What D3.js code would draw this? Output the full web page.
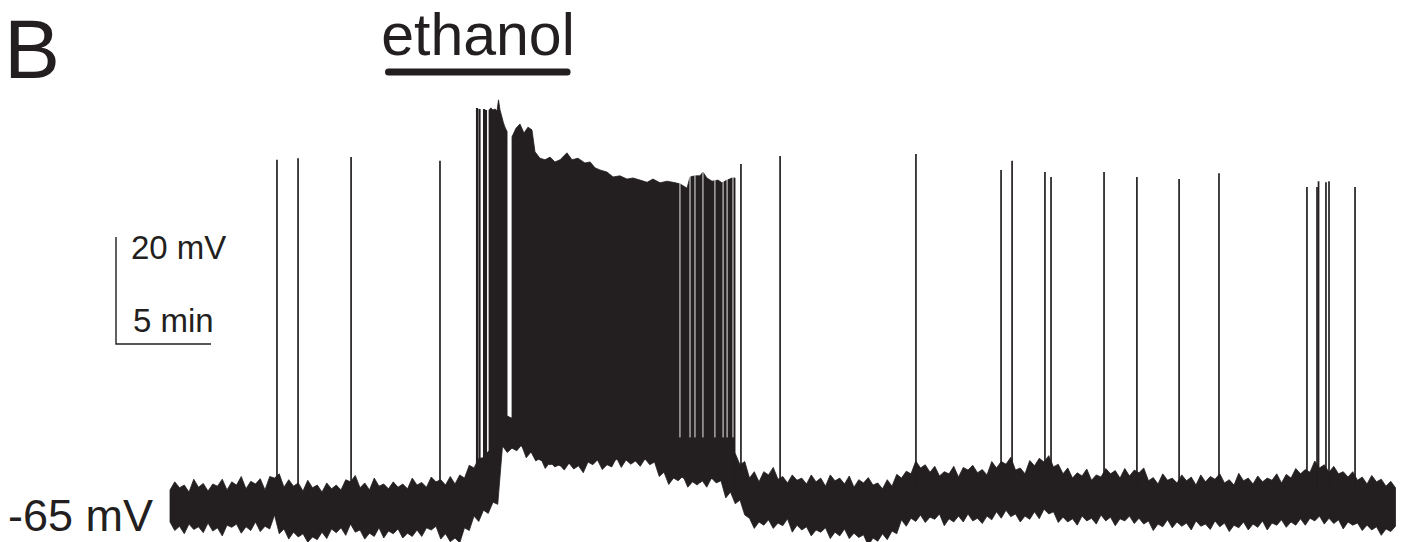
<!DOCTYPE html>
<html><head><meta charset="utf-8">
<script src="https://cdn.jsdelivr.net/npm/d3@7"></script>
<style>html,body{margin:0;padding:0;background:#fff;} svg{display:block;}</style>
</head><body>
<svg id="chart" width="1408" height="542"></svg>
<script>
// ---------------- DATA (time in min, membrane potential in mV) ----------------
const panelLabel = "B";
const drugLabel = "ethanol";
const restLabel = "-65 mV";
const scaleVLabel = "20 mV";
const scaleHLabel = "5 min";
const scaleV = 20;   // mV
const scaleH = 5;    // min
const restV = -65;

// baseline envelope (upper / lower edge of the noisy trace), sampled every 0.5 min
const baseStep = 0.5;
const baseHi = [-61.8,-61.4,-62.2,-61.3,-62.0,-61.1,-61.8,-60.9,-61.6,-60.7,-61.8,-59.6,-61.3,-61.1,-62.0,-61.4,-62.2,-61.6,-61.8,-60.3,
 -61.4,-61.8,-61.1,-61.6,-61.3,-61.6,-60.9,-61.3,-60.3,-60.9,-60.7,-59.6,-57.7,-55.8,-54.3,-48.7,-48.4,-48.7,-49.7,-50.6,
 -51.0,-50.6,-51.0,-51.2,-50.8,-50.6,-50.2,-50.6,-50.4,-50.8,-50.6,-51.0,-52.5,-53.4,-53.8,-54.2,-54.0,-54.3,-54.7,-55.8,
 -57.1,-59.6,-60.3,-59.0,-59.8,-60.5,-60.0,-60.7,-60.3,-61.1,-60.1,-60.7,-61.3,-60.5,-60.9,-61.6,-61.1,-59.6,-58.8,-57.7,
 -58.5,-59.2,-58.8,-59.4,-58.1,-58.6,-59.0,-57.7,-57.0,-58.1,-58.8,-57.3,-56.6,-57.5,-58.8,-59.6,-59.2,-60.0,-59.4,-58.8,
 -59.6,-59.2,-58.6,-60.1,-60.7,-60.0,-60.5,-60.1,-60.9,-60.3,-59.8,-60.5,-60.9,-60.1,-60.7,-60.3,-60.0,-60.5,-59.6,-58.8,
 -58.5,-57.7,-58.5,-58.8,-59.4,-60.0,-60.7,-60.3,-61.1,-61.4];
const baseLo = [-67.8,-68.6,-68.2,-68.7,-68.0,-68.9,-68.4,-68.2,-68.7,-67.8,-68.6,-66.5,-69.1,-69.7,-70.0,-70.6,-69.7,-69.1,-68.9,-68.2,
 -69.3,-69.9,-68.9,-69.5,-69.1,-69.9,-69.3,-68.9,-68.6,-70.0,-70.8,-68.9,-66.7,-65.6,-64.1,-53.6,-54.0,-53.4,-54.7,-55.8,
 -56.6,-57.1,-56.8,-57.3,-56.6,-56.2,-57.1,-55.8,-56.2,-56.4,-56.0,-56.6,-58.5,-59.6,-59.2,-60.3,-60.0,-59.6,-60.1,-62.2,
 -63.7,-67.1,-67.8,-67.4,-68.0,-67.2,-68.4,-68.7,-69.3,-68.9,-69.7,-69.1,-69.9,-70.2,-70.8,-70.0,-69.5,-67.4,-67.1,-66.5,
 -66.9,-66.3,-67.2,-66.7,-66.3,-67.1,-66.7,-65.9,-65.6,-66.3,-66.7,-65.9,-65.4,-65.9,-66.9,-67.2,-66.7,-67.1,-66.5,-66.9,
 -67.2,-66.7,-67.1,-67.6,-68.2,-67.4,-67.8,-68.0,-67.6,-68.2,-67.6,-68.0,-68.4,-67.8,-68.2,-67.6,-68.0,-67.4,-67.8,-67.2,
 -67.1,-66.7,-67.1,-67.4,-67.8,-68.0,-68.4,-68.7,-69.1,-68.6];
// noise peaks between the samples above (at +0.25 min)
const baseHiMid = [-60.3,-60.9,-59.8,-60.6,-60.7,-59.8,-60.3,-59.3,-60.2,-59.7,-59.3,-58.8,-59.9,-60.5,-60.0,-60.9,-60.5,-60.9,-59.9,-59.1,
 -60.5,-59.6,-60.7,-60.3,-60.7,-59.6,-60.4,-59.4,-59.9,-59.3,-59.0,-57.2,-55.9,-54.6,-52.0,-48.0,-47.9,-48.2,-49.2,-50.1,
 -50.1,-50.1,-50.5,-50.3,-50.1,-49.7,-49.7,-49.9,-49.9,-50.1,-50.1,-50.5,-52.0,-52.9,-53.3,-53.5,-53.5,-53.8,-54.2,-55.0,
 -56.5,-58.4,-58.4,-57.6,-59.3,-59.0,-59.6,-59.0,-59.6,-59.0,-59.6,-59.2,-59.9,-59.5,-60.5,-59.9,-58.9,-58.3,-56.4,-57.1,
 -57.4,-58.4,-57.4,-57.6,-57.2,-58.0,-56.5,-56.5,-55.7,-57.7,-56.3,-55.9,-55.4,-57.0,-57.7,-58.6,-57.9,-59.0,-57.8,-58.2,
 -57.8,-58.1,-57.7,-59.5,-58.8,-59.6,-59.0,-59.4,-59.0,-59.3,-58.8,-59.9,-58.7,-59.6,-59.2,-59.6,-58.8,-58.9,-57.8,-58.0,
 -56.4,-57.1,-57.4,-58.4,-58.4,-59.4,-59.1,-59.8,-60.2];
const baseLoMid = [-69.4,-70.0,-69.2,-69.8,-69.5,-70.4,-68.8,-69.9,-69.4,-69.6,-69.1,-70.0,-71.0,-70.6,-71.6,-71.1,-70.9,-69.8,-70.3,-69.7,
 -71.0,-70.5,-70.8,-70.0,-70.8,-70.5,-70.5,-69.3,-71.0,-71.5,-71.7,-69.4,-67.7,-66.2,-64.5,-54.8,-54.5,-55.8,-56.4,-57.8,
 -57.5,-58.1,-57.9,-58.6,-57.1,-58.0,-57.5,-57.6,-57.0,-57.4,-57.1,-59.3,-60.8,-60.1,-61.3,-60.9,-61.3,-60.5,-63.3,-64.4,
 -66.5,-69.0,-68.4,-69.0,-68.5,-69.7,-69.3,-70.4,-69.7,-70.9,-70.4,-70.9,-70.7,-72.2,-71.4,-71.1,-70.0,-68.6,-67.7,-67.9,
 -67.3,-68.5,-67.8,-67.8,-67.6,-68.1,-67.4,-67.1,-66.8,-67.8,-67.3,-67.2,-66.3,-67.9,-67.8,-68.4,-67.6,-68.2,-67.6,-68.5,
 -67.6,-68.1,-68.2,-69.4,-68.7,-68.9,-68.6,-69.3,-68.6,-69.2,-68.7,-69.6,-68.9,-69.3,-68.8,-69.3,-68.4,-68.8,-68.4,-68.4,
 -67.6,-68.2,-68.1,-69.1,-68.4,-69.4,-69.3,-70.3,-69.6];

// onset burst: separate spikes, then fused burst
const burstSpikeT = [16.16, 16.29, 16.53, 16.63];
const burstSpikePeak = [9.6, 9.4, 9.4, 9.2];
const burstT  = [16.79, 16.89, 17.0, 17.11, 17.21, 17.29, 17.37, 17.47, 17.55, 17.63, 17.74];
const burstHi = [9.2, 9.6, 9.2, 9.4, 9.0, 11.1, 9.2, 7.9, 6.8, 6.0, 5.2];
const burstLo = [-63.7, -63.9, -63.7, -63.3, -62.9, -60.0, -53.8, -53.6, -53.6, -53.4, -53.6];

// sustained high-frequency firing during ethanol (spike-peak / trough envelope)
const denseT  = [18.0,18.21,18.42,18.63,18.84,19.05,19.21,19.47,19.74,20.0,20.26,20.53,20.89,21.16,21.47,21.84,22.11,22.37,22.63,23.0,
 23.32,23.68,24.05,24.37,24.74,25.11,25.42,25.79,26.16,26.47,26.84,27.21,27.37,27.63,27.89,28.05,28.26,28.53,28.84,29.05,29.32,29.58,29.74];
const denseHi = [4.2,5.8,6.6,4.9,6.0,5.5,1.4,0.2,-0.1,0.4,-0.5,-0.1,1.2,-0.1,0.2,-0.7,-0.5,-1.6,-2.0,-2.4,
 -3.3,-3.1,-3.7,-3.5,-3.9,-4.3,-3.7,-4.4,-4.1,-4.3,-4.6,-5.4,-3.3,-3.1,-3.1,-2.4,-3.5,-4.1,-3.9,-4.4,-3.9,-3.5,-3.5];
const denseLo = [-53.8,-53.0,-53.4,-54.0,-53.6,-54.7,-55.8,-56.2,-56.6,-57.1,-56.8,-57.3,-57.0,-56.6,-56.2,-55.8,-56.6,-56.2,-55.7,-56.0,
 -56.4,-55.8,-56.2,-56.0,-56.6,-55.8,-56.2,-56.6,-58.8,-59.6,-59.2,-60.0,-60.3,-59.6,-60.5,-60.0,-60.3,-59.6,-60.1,-60.0,-60.9,-61.8,-62.2];
// visible inter-spike gaps near the end of the high-frequency firing
const denseGapT = [26.84, 27.37, 27.63, 28.05, 28.68, 29.11, 29.32, 29.63];

// isolated action potentials
const spikeT    = [5.63, 6.74, 9.53, 14.21, 30.05, 32.11, 39.26, 43.74, 44.32, 46.05, 46.37, 49.16, 50.89, 53.11, 55.21, 59.84, 60.37, 60.45, 60.84, 61.0, 62.37];
const spikePeak = [-0.1, 0.2, 0.4, -0.3, -0.9, 0.6, 1.0, -2.0, -0.3, -2.4, -3.3, -2.4, -3.3, -3.7, -2.6, -5.2, -5.2, -4.1, -4.3, -4.1, -5.2];
const spikeBase = -62;

// drug application period (min)
const drugStart = 11.5;
const drugEnd = 20.9;

// ---------------- DRAWING ----------------
const ink = "#231f20";
const svg = d3.select("#chart");
const x = d3.scaleLinear().domain([0, 64.5]).range([170, 1395.5]);
const y = d3.scaleLinear().domain([-65, 0]).range([507, 507 - 65 * 5.35]);

const baseData = [];
baseHi.forEach((h, i) => {
  baseData.push({t: i * baseStep, hi: h, lo: baseLo[i]});
  if (i < baseHiMid.length) baseData.push({t: i * baseStep + baseStep / 2, hi: baseHiMid[i], lo: baseLoMid[i]});
});
const burstData = burstT.map((t, i) => ({t, hi: burstHi[i], lo: burstLo[i]}));
const denseData = denseT.map((t, i) => ({t, hi: denseHi[i], lo: denseLo[i]}));

const area = d3.area().x(d => x(d.t)).y0(d => y(d.lo)).y1(d => y(d.hi)).curve(d3.curveLinear);

const g = svg.append("g");
g.append("path").datum(baseData).attr("d", area).attr("fill", ink).attr("stroke", ink).attr("stroke-width", 0.8);
g.append("path").datum(burstData).attr("d", area).attr("fill", ink).attr("stroke", ink).attr("stroke-width", 0.8);
g.append("path").datum(denseData).attr("d", area).attr("fill", ink).attr("stroke", ink).attr("stroke-width", 0.8);

g.selectAll("line.gap").data(denseGapT).join("line").attr("class", "gap")
  .attr("x1", d => x(d)).attr("x2", d => x(d))
  .attr("y1", y(-1)).attr("y2", y(-52))
  .attr("stroke", "#fff").attr("stroke-width", 0.9);

g.selectAll("line.bspk").data(burstSpikeT).join("line").attr("class", "bspk")
  .attr("x1", d => x(d)).attr("x2", d => x(d))
  .attr("y1", y(spikeBase)).attr("y2", (d, i) => y(burstSpikePeak[i]))
  .attr("stroke", ink).attr("stroke-width", 2.2);

g.selectAll("line.spk").data(spikeT).join("line").attr("class", "spk")
  .attr("x1", d => x(d)).attr("x2", d => x(d))
  .attr("y1", y(spikeBase)).attr("y2", (d, i) => y(spikePeak[i]))
  .attr("stroke", ink).attr("stroke-width", 1.7);

// scale bars
const sbX = 116, sbY = 344;
const vLen = y(restV) - y(restV + scaleV);
const hLen = x(scaleH) - x(0);
svg.append("path")
  .attr("d", `M${sbX},${sbY - vLen}L${sbX},${sbY}L${sbX + hLen},${sbY}`)
  .attr("fill", "none").attr("stroke", ink).attr("stroke-width", 1.4);

const font = "'Liberation Sans', Arial, Helvetica, sans-serif";
svg.append("text").attr("x", 131).attr("y", 259).attr("font-family", font).attr("font-size", 33).attr("fill", ink).text(scaleVLabel);
svg.append("text").attr("x", 133).attr("y", 332).attr("font-family", font).attr("font-size", 33).attr("fill", ink).text(scaleHLabel);

svg.append("text").attr("x", 8).attr("y", 531).attr("font-family", font).attr("font-size", 45).attr("fill", ink).text(restLabel);

svg.append("text").attr("x", 4).attr("y", 78).attr("font-family", font).attr("font-size", 84).attr("fill", ink).text(panelLabel);

svg.append("text").attr("x", 478).attr("y", 55).attr("text-anchor", "middle").attr("font-family", font).attr("font-size", 59).attr("fill", ink).text(drugLabel);
svg.append("line").attr("x1", x(drugStart)).attr("x2", x(drugEnd)).attr("y1", 72).attr("y2", 72)
  .attr("stroke", ink).attr("stroke-width", 7).attr("stroke-linecap", "round");
</script>
</body></html>
